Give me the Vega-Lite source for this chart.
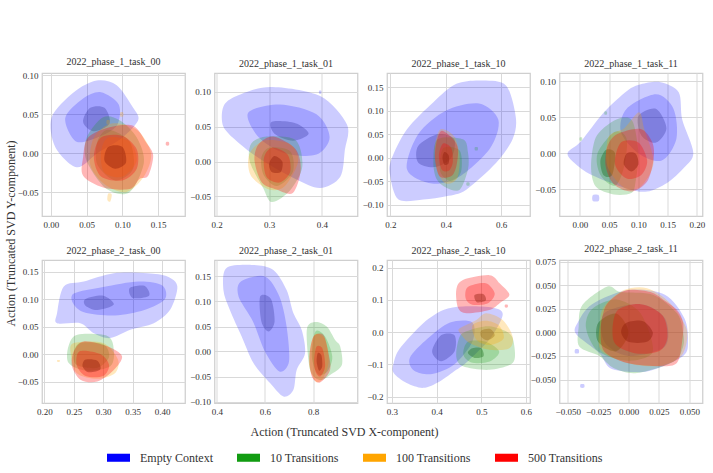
{
"$schema": "https://vega.github.io/schema/vega-lite/v6.json",
"background": "white",
"padding": {"left": 3, "top": 56, "right": 3, "bottom": 5},
"columns": 4,
"spacing": {"row": 44, "column": 29.5},
"bounds": "flush",
"resolve": {"scale": {"x": "independent", "y": "independent", "fill": "shared", "fillOpacity": "shared"}},
"config": {
  "font": "Liberation Serif",
  "style": {"guide-label": {"font": "Liberation Serif"}, "guide-title": {"font": "Liberation Serif"}, "group-title": {"font": "Liberation Serif"}},
  "view": {"stroke": "#cfcfcf", "strokeWidth": 1.25},
  "axis": {"grid": true, "gridColor": "#d9d9d9", "gridWidth": 1, "domain": false, "ticks": false, "labelFont": "Liberation Serif", "labelFontSize": 9, "labelColor": "#333333", "labelPadding": 4, "titleFont": "Liberation Serif", "titleFontSize": 12, "titleFontWeight": "normal", "titleColor": "#333333"},
  "title": {"font": "Liberation Serif", "fontSize": 10, "fontWeight": "normal", "color": "#333333", "offset": 4},
  "legend": {"orient": "none", "legendX": 65, "legendY": 373, "direction": "horizontal", "symbolType": "M-1,-0.35H1V0.35H-1Z", "symbolSize": 529, "symbolOpacity": 1, "symbolStrokeWidth": 0, "labelFont": "Liberation Serif", "labelFontSize": 12, "labelColor": "#333333", "labelOffset": 10, "columnPadding": 24}
},
"datasets": {
"p1": [
{"g":"0","k":"a","x":0.032,"y":0.078},{"g":"0","k":"a","x":0.064,"y":0.093},{"g":"0","k":"a","x":0.092,"y":0.087},{"g":"0","k":"a","x":0.115,"y":0.058},{"g":"0","k":"a","x":0.122,"y":0.042},{"g":"0","k":"a","x":0.10,"y":0.02},{"g":"0","k":"a","x":0.065,"y":0.0},{"g":"0","k":"a","x":0.036,"y":-0.018},{"g":"0","k":"a","x":0.006,"y":0.008},{"g":"0","k":"a","x":0.001,"y":0.046},
{"g":"0","k":"b","x":0.045,"y":0.07},{"g":"0","k":"b","x":0.07,"y":0.078},{"g":"0","k":"b","x":0.095,"y":0.062},{"g":"0","k":"b","x":0.092,"y":0.035},{"g":"0","k":"b","x":0.065,"y":0.02},{"g":"0","k":"b","x":0.035,"y":0.015},{"g":"0","k":"b","x":0.02,"y":0.045},
{"g":"0c","k":"c","x":0.055,"y":0.058},{"g":"0c","k":"c","x":0.075,"y":0.058},{"g":"0c","k":"c","x":0.082,"y":0.038},{"g":"0c","k":"c","x":0.06,"y":0.028},{"g":"0c","k":"c","x":0.045,"y":0.04},
{"g":"10","k":"a","x":0.073,"y":0.046},{"g":"10","k":"a","x":0.096,"y":0.042},{"g":"10","k":"a","x":0.12,"y":0.02},{"g":"10","k":"a","x":0.13,"y":-0.012},{"g":"10","k":"a","x":0.11,"y":-0.05},{"g":"10","k":"a","x":0.078,"y":-0.046},{"g":"10","k":"a","x":0.05,"y":-0.01},{"g":"10","k":"a","x":0.05,"y":0.02},
{"g":"10","k":"b","x":0.08,"y":0.03},{"g":"10","k":"b","x":0.11,"y":0.015},{"g":"10","k":"b","x":0.115,"y":-0.02},{"g":"10","k":"b","x":0.09,"y":-0.035},{"g":"10","k":"b","x":0.065,"y":-0.015},{"g":"10","k":"b","x":0.065,"y":0.015},
{"g":"100","k":"a","x":0.085,"y":0.038},{"g":"100","k":"a","x":0.12,"y":0.03},{"g":"100","k":"a","x":0.14,"y":0.0},{"g":"100","k":"a","x":0.13,"y":-0.03},{"g":"100","k":"a","x":0.105,"y":-0.05},{"g":"100","k":"a","x":0.075,"y":-0.04},{"g":"100","k":"a","x":0.055,"y":-0.015},{"g":"100","k":"a","x":0.06,"y":0.02},
{"g":"100","k":"b","x":0.08,"y":0.02},{"g":"100","k":"b","x":0.11,"y":0.015},{"g":"100","k":"b","x":0.12,"y":-0.01},{"g":"100","k":"b","x":0.1,"y":-0.03},{"g":"100","k":"b","x":0.075,"y":-0.025},{"g":"100","k":"b","x":0.07,"y":0.0},
{"g":"100","k":"s1","x":0.097,"y":0.052},{"g":"100","k":"s1","x":0.101,"y":0.052},{"g":"100","k":"s1","x":0.101,"y":0.047},{"g":"100","k":"s1","x":0.097,"y":0.047},
{"g":"100","k":"s2","x":0.078,"y":0.042},{"g":"100","k":"s2","x":0.082,"y":0.042},{"g":"100","k":"s2","x":0.082,"y":0.037},{"g":"100","k":"s2","x":0.078,"y":0.037},
{"g":"100","k":"s3","x":0.08,"y":-0.052},{"g":"100","k":"s3","x":0.085,"y":-0.053},{"g":"100","k":"s3","x":0.083,"y":-0.062},{"g":"100","k":"s3","x":0.079,"y":-0.06},
{"g":"500","k":"a","x":0.052,"y":0.02},{"g":"500","k":"a","x":0.082,"y":0.033},{"g":"500","k":"a","x":0.115,"y":0.035},{"g":"500","k":"a","x":0.133,"y":0.014},{"g":"500","k":"a","x":0.143,"y":-0.003},{"g":"500","k":"a","x":0.136,"y":-0.029},{"g":"500","k":"a","x":0.124,"y":-0.033},{"g":"500","k":"a","x":0.11,"y":-0.046},{"g":"500","k":"a","x":0.073,"y":-0.044},{"g":"500","k":"a","x":0.045,"y":-0.029},{"g":"500","k":"a","x":0.045,"y":-0.005},
{"g":"500","k":"b","x":0.07,"y":0.02},{"g":"500","k":"b","x":0.1,"y":0.022},{"g":"500","k":"b","x":0.12,"y":0.005},{"g":"500","k":"b","x":0.12,"y":-0.02},{"g":"500","k":"b","x":0.1,"y":-0.035},{"g":"500","k":"b","x":0.07,"y":-0.03},{"g":"500","k":"b","x":0.06,"y":-0.005},
{"g":"500c","k":"c","x":0.08,"y":0.008},{"g":"500c","k":"c","x":0.1,"y":0.008},{"g":"500c","k":"c","x":0.105,"y":-0.012},{"g":"500c","k":"c","x":0.09,"y":-0.02},{"g":"500c","k":"c","x":0.075,"y":-0.01},
{"g":"500","k":"s1","x":0.161,"y":0.014},{"g":"500","k":"s1","x":0.165,"y":0.014},{"g":"500","k":"s1","x":0.165,"y":0.01},{"g":"500","k":"s1","x":0.161,"y":0.01}
],
"p2": [
{"g":"0","k":"a","x":0.213,"y":0.079},{"g":"0","k":"a","x":0.238,"y":0.094},{"g":"0","k":"a","x":0.302,"y":0.107},{"g":"0","k":"a","x":0.397,"y":0.094},{"g":"0","k":"a","x":0.448,"y":0.053},{"g":"0","k":"a","x":0.444,"y":0.017},{"g":"0","k":"a","x":0.435,"y":-0.022},{"g":"0","k":"a","x":0.397,"y":-0.038},{"g":"0","k":"a","x":0.35,"y":-0.025},{"g":"0","k":"a","x":0.29,"y":0.0},{"g":"0","k":"a","x":0.245,"y":0.025},{"g":"0","k":"a","x":0.213,"y":0.05},
{"g":"0","k":"b","x":0.26,"y":0.07},{"g":"0","k":"b","x":0.32,"y":0.082},{"g":"0","k":"b","x":0.39,"y":0.068},{"g":"0","k":"b","x":0.415,"y":0.035},{"g":"0","k":"b","x":0.39,"y":0.01},{"g":"0","k":"b","x":0.33,"y":0.012},{"g":"0","k":"b","x":0.28,"y":0.035},
{"g":"0c","k":"c","x":0.305,"y":0.057},{"g":"0c","k":"c","x":0.35,"y":0.055},{"g":"0c","k":"c","x":0.375,"y":0.04},{"g":"0c","k":"c","x":0.345,"y":0.03},{"g":"0c","k":"c","x":0.31,"y":0.04},
{"g":"0","k":"s1","x":0.395,"y":0.1015},{"g":"0","k":"s1","x":0.399,"y":0.1015},{"g":"0","k":"s1","x":0.399,"y":0.0975},{"g":"0","k":"s1","x":0.395,"y":0.0975},
{"g":"10","k":"a","x":0.295,"y":0.036},{"g":"10","k":"a","x":0.35,"y":0.031},{"g":"10","k":"a","x":0.363,"y":-0.007},{"g":"10","k":"a","x":0.34,"y":-0.041},{"g":"10","k":"a","x":0.305,"y":-0.058},{"g":"10","k":"a","x":0.288,"y":-0.037},{"g":"10","k":"a","x":0.263,"y":0.0},{"g":"10","k":"a","x":0.266,"y":0.026},
{"g":"10","k":"b","x":0.3,"y":0.02},{"g":"10","k":"b","x":0.34,"y":0.015},{"g":"10","k":"b","x":0.345,"y":-0.015},{"g":"10","k":"b","x":0.315,"y":-0.035},{"g":"10","k":"b","x":0.29,"y":-0.02},{"g":"10","k":"b","x":0.285,"y":0.005},
{"g":"100","k":"a","x":0.29,"y":0.03},{"g":"100","k":"a","x":0.34,"y":0.025},{"g":"100","k":"a","x":0.355,"y":0.0},{"g":"100","k":"a","x":0.33,"y":-0.035},{"g":"100","k":"a","x":0.3,"y":-0.04},{"g":"100","k":"a","x":0.265,"y":-0.02},{"g":"100","k":"a","x":0.262,"y":0.01},
{"g":"500","k":"a","x":0.308,"y":0.036},{"g":"500","k":"a","x":0.35,"y":0.018},{"g":"500","k":"a","x":0.36,"y":-0.012},{"g":"500","k":"a","x":0.345,"y":-0.045},{"g":"500","k":"a","x":0.314,"y":-0.04},{"g":"500","k":"a","x":0.286,"y":-0.03},{"g":"500","k":"a","x":0.272,"y":0.002},{"g":"500","k":"a","x":0.28,"y":0.025},
{"g":"500","k":"b","x":0.305,"y":0.02},{"g":"500","k":"b","x":0.335,"y":0.01},{"g":"500","k":"b","x":0.34,"y":-0.015},{"g":"500","k":"b","x":0.32,"y":-0.03},{"g":"500","k":"b","x":0.295,"y":-0.022},{"g":"500","k":"b","x":0.29,"y":0.005},
{"g":"500c","k":"c","x":0.31,"y":0.008},{"g":"500c","k":"c","x":0.325,"y":0.0},{"g":"500c","k":"c","x":0.322,"y":-0.015},{"g":"500c","k":"c","x":0.305,"y":-0.015},{"g":"500c","k":"c","x":0.3,"y":-0.003}
],
"p3": [
{"g":"0","k":"a","x":0.438,"y":0.157},{"g":"0","k":"a","x":0.534,"y":0.164},{"g":"0","k":"a","x":0.618,"y":0.153},{"g":"0","k":"a","x":0.653,"y":0.085},{"g":"0","k":"a","x":0.641,"y":0.039},{"g":"0","k":"a","x":0.582,"y":-0.011},{"g":"0","k":"a","x":0.474,"y":-0.068},{"g":"0","k":"a","x":0.402,"y":-0.082},{"g":"0","k":"a","x":0.319,"y":-0.089},{"g":"0","k":"a","x":0.229,"y":-0.089},{"g":"0","k":"a","x":0.199,"y":-0.039},{"g":"0","k":"a","x":0.203,"y":-0.004},{"g":"0","k":"a","x":0.259,"y":0.06},{"g":"0","k":"a","x":0.355,"y":0.118},
{"g":"0","k":"b","x":0.3,"y":0.05},{"g":"0","k":"b","x":0.4,"y":0.1},{"g":"0","k":"b","x":0.52,"y":0.115},{"g":"0","k":"b","x":0.59,"y":0.08},{"g":"0","k":"b","x":0.56,"y":0.02},{"g":"0","k":"b","x":0.45,"y":-0.04},{"g":"0","k":"b","x":0.35,"y":-0.055},{"g":"0","k":"b","x":0.26,"y":-0.025},
{"g":"0c","k":"c","x":0.3,"y":0.025},{"g":"0c","k":"c","x":0.37,"y":0.05},{"g":"0c","k":"c","x":0.43,"y":0.04},{"g":"0c","k":"c","x":0.42,"y":0.0},{"g":"0c","k":"c","x":0.36,"y":-0.02},{"g":"0c","k":"c","x":0.3,"y":-0.01},
{"g":"10","k":"a","x":0.37,"y":0.039},{"g":"10","k":"a","x":0.462,"y":0.039},{"g":"10","k":"a","x":0.48,"y":0.011},{"g":"10","k":"a","x":0.48,"y":-0.025},{"g":"10","k":"a","x":0.45,"y":-0.068},{"g":"10","k":"a","x":0.402,"y":-0.064},{"g":"10","k":"a","x":0.367,"y":-0.046},{"g":"10","k":"a","x":0.355,"y":-0.011},
{"g":"10","k":"b","x":0.39,"y":0.02},{"g":"10","k":"b","x":0.45,"y":0.015},{"g":"10","k":"b","x":0.455,"y":-0.03},{"g":"10","k":"b","x":0.42,"y":-0.05},{"g":"10","k":"b","x":0.38,"y":-0.03},
{"g":"10","k":"s1","x":0.505,"y":0.022},{"g":"10","k":"s1","x":0.515,"y":0.022},{"g":"10","k":"s1","x":0.515,"y":0.016},{"g":"10","k":"s1","x":0.505,"y":0.016},
{"g":"10","k":"s2","x":0.475,"y":-0.053},{"g":"10","k":"s2","x":0.485,"y":-0.053},{"g":"10","k":"s2","x":0.485,"y":-0.059},{"g":"10","k":"s2","x":0.475,"y":-0.059},
{"g":"100","k":"a","x":0.38,"y":0.06},{"g":"100","k":"a","x":0.43,"y":0.045},{"g":"100","k":"a","x":0.45,"y":0.0},{"g":"100","k":"a","x":0.44,"y":-0.045},{"g":"100","k":"a","x":0.4,"y":-0.055},{"g":"100","k":"a","x":0.37,"y":-0.03},{"g":"100","k":"a","x":0.36,"y":0.02},
{"g":"500","k":"a","x":0.385,"y":0.057},{"g":"500","k":"a","x":0.427,"y":0.039},{"g":"500","k":"a","x":0.444,"y":0.018},{"g":"500","k":"a","x":0.438,"y":-0.018},{"g":"500","k":"a","x":0.42,"y":-0.039},{"g":"500","k":"a","x":0.378,"y":-0.04},{"g":"500","k":"a","x":0.361,"y":-0.004},{"g":"500","k":"a","x":0.366,"y":0.032},
{"g":"500","k":"b","x":0.39,"y":0.03},{"g":"500","k":"b","x":0.42,"y":0.02},{"g":"500","k":"b","x":0.425,"y":-0.01},{"g":"500","k":"b","x":0.41,"y":-0.028},{"g":"500","k":"b","x":0.385,"y":-0.025},{"g":"500","k":"b","x":0.375,"y":0.005},
{"g":"500c","k":"c","x":0.395,"y":0.012},{"g":"500c","k":"c","x":0.41,"y":0.005},{"g":"500c","k":"c","x":0.41,"y":-0.012},{"g":"500c","k":"c","x":0.395,"y":-0.015},{"g":"500c","k":"c","x":0.388,"y":0.0}
],
"p4": [
{"g":"0","k":"a","x":0.081,"y":0.087},{"g":"0","k":"a","x":0.104,"y":0.096},{"g":"0","k":"a","x":0.138,"y":0.099},{"g":"0","k":"a","x":0.169,"y":0.085},{"g":"0","k":"a","x":0.175,"y":0.047},{"g":"0","k":"a","x":0.194,"y":0.001},{"g":"0","k":"a","x":0.178,"y":-0.02},{"g":"0","k":"a","x":0.149,"y":-0.041},{"g":"0","k":"a","x":0.115,"y":-0.053},{"g":"0","k":"a","x":0.081,"y":-0.049},{"g":"0","k":"a","x":0.02,"y":-0.03},{"g":"0","k":"a","x":-0.01,"y":-0.013},{"g":"0","k":"a","x":-0.021,"y":0.001},{"g":"0","k":"a","x":0.002,"y":0.017},{"g":"0","k":"a","x":0.041,"y":0.057},
{"g":"0","k":"b","x":0.08,"y":0.062},{"g":"0","k":"b","x":0.13,"y":0.082},{"g":"0","k":"b","x":0.16,"y":0.062},{"g":"0","k":"b","x":0.165,"y":0.02},{"g":"0","k":"b","x":0.14,"y":-0.01},{"g":"0","k":"b","x":0.1,"y":0.0},{"g":"0","k":"b","x":0.07,"y":0.03},
{"g":"0c","k":"c","x":0.1,"y":0.052},{"g":"0c","k":"c","x":0.13,"y":0.062},{"g":"0c","k":"c","x":0.148,"y":0.035},{"g":"0c","k":"c","x":0.13,"y":0.015},{"g":"0c","k":"c","x":0.105,"y":0.025},
{"g":"0","k":"s1","x":0.022,"y":-0.058},{"g":"0","k":"s1","x":0.032,"y":-0.058},{"g":"0","k":"s1","x":0.032,"y":-0.066},{"g":"0","k":"s1","x":0.022,"y":-0.066},
{"g":"10","k":"a","x":0.075,"y":0.05},{"g":"10","k":"a","x":0.091,"y":0.043},{"g":"10","k":"a","x":0.1,"y":0.0},{"g":"10","k":"a","x":0.095,"y":-0.04},{"g":"10","k":"a","x":0.088,"y":-0.055},{"g":"10","k":"a","x":0.058,"y":-0.057},{"g":"10","k":"a","x":0.027,"y":-0.046},{"g":"10","k":"a","x":0.019,"y":-0.018},{"g":"10","k":"a","x":0.027,"y":0.022},{"g":"10","k":"a","x":0.053,"y":0.043},
{"g":"10","k":"b","x":0.06,"y":0.03},{"g":"10","k":"b","x":0.08,"y":0.02},{"g":"10","k":"b","x":0.075,"y":-0.02},{"g":"10","k":"b","x":0.06,"y":-0.045},{"g":"10","k":"b","x":0.035,"y":-0.03},{"g":"10","k":"b","x":0.03,"y":0.0},
{"g":"10c","k":"c","x":0.045,"y":0.005},{"g":"10c","k":"c","x":0.06,"y":0.0},{"g":"10c","k":"c","x":0.055,"y":-0.03},{"g":"10c","k":"c","x":0.04,"y":-0.03},{"g":"10c","k":"c","x":0.035,"y":-0.01},
{"g":"10","k":"s1","x":0.042,"y":0.058},{"g":"10","k":"s1","x":0.046,"y":0.058},{"g":"10","k":"s1","x":0.046,"y":0.054},{"g":"10","k":"s1","x":0.042,"y":0.054},
{"g":"10","k":"s2","x":-0.0005,"y":0.022},{"g":"10","k":"s2","x":0.0035,"y":0.022},{"g":"10","k":"s2","x":0.0035,"y":0.018},{"g":"10","k":"s2","x":-0.0005,"y":0.018},
{"g":"100","k":"a","x":0.101,"y":0.057},{"g":"100","k":"a","x":0.11,"y":0.034},{"g":"100","k":"a","x":0.126,"y":-0.013},{"g":"100","k":"a","x":0.104,"y":-0.046},{"g":"100","k":"a","x":0.076,"y":-0.048},{"g":"100","k":"a","x":0.047,"y":-0.018},{"g":"100","k":"a","x":0.049,"y":0.023},{"g":"100","k":"a","x":0.076,"y":0.035},
{"g":"500","k":"a","x":0.064,"y":0.027},{"g":"500","k":"a","x":0.104,"y":0.034},{"g":"500","k":"a","x":0.124,"y":0.015},{"g":"500","k":"a","x":0.126,"y":-0.008},{"g":"500","k":"a","x":0.115,"y":-0.039},{"g":"500","k":"a","x":0.088,"y":-0.053},{"g":"500","k":"a","x":0.058,"y":-0.043},{"g":"500","k":"a","x":0.044,"y":-0.018},{"g":"500","k":"a","x":0.047,"y":0.01},
{"g":"500","k":"b","x":0.07,"y":0.015},{"g":"500","k":"b","x":0.1,"y":0.015},{"g":"500","k":"b","x":0.115,"y":-0.01},{"g":"500","k":"b","x":0.105,"y":-0.03},{"g":"500","k":"b","x":0.08,"y":-0.035},{"g":"500","k":"b","x":0.06,"y":-0.015},
{"g":"500c","k":"c","x":0.08,"y":0.0},{"g":"500c","k":"c","x":0.095,"y":0.0},{"g":"500c","k":"c","x":0.1,"y":-0.015},{"g":"500c","k":"c","x":0.088,"y":-0.025},{"g":"500c","k":"c","x":0.075,"y":-0.015}
],
"p5": [
{"g":"0","k":"a","x":0.2216,"y":0.0745},{"g":"0","k":"a","x":0.233,"y":0.123},{"g":"0","k":"a","x":0.267,"y":0.132},{"g":"0","k":"a","x":0.318,"y":0.147},{"g":"0","k":"a","x":0.375,"y":0.147},{"g":"0","k":"a","x":0.409,"y":0.141},{"g":"0","k":"a","x":0.426,"y":0.123},{"g":"0","k":"a","x":0.414,"y":0.081},{"g":"0","k":"a","x":0.386,"y":0.056},{"g":"0","k":"a","x":0.346,"y":0.044},{"g":"0","k":"a","x":0.312,"y":0.029},{"g":"0","k":"a","x":0.284,"y":0.038},{"g":"0","k":"a","x":0.261,"y":0.056},{"g":"0","k":"a","x":0.2216,"y":0.056},
{"g":"0","k":"b","x":0.25,"y":0.11},{"g":"0","k":"b","x":0.3,"y":0.122},{"g":"0","k":"b","x":0.36,"y":0.132},{"g":"0","k":"b","x":0.4,"y":0.125},{"g":"0","k":"b","x":0.405,"y":0.1},{"g":"0","k":"b","x":0.37,"y":0.08},{"g":"0","k":"b","x":0.32,"y":0.07},{"g":"0","k":"b","x":0.27,"y":0.075},{"g":"0","k":"b","x":0.25,"y":0.09},
{"g":"0c","k":"c","x":0.27,"y":0.1},{"g":"0c","k":"c","x":0.3,"y":0.106},{"g":"0c","k":"c","x":0.318,"y":0.09},{"g":"0c","k":"c","x":0.29,"y":0.08},{"g":"0c","k":"c","x":0.27,"y":0.088},
{"g":"0c","k":"d","x":0.345,"y":0.12},{"g":"0c","k":"d","x":0.37,"y":0.124},{"g":"0c","k":"d","x":0.378,"y":0.106},{"g":"0c","k":"d","x":0.35,"y":0.102},
{"g":"10","k":"a","x":0.256,"y":0.035},{"g":"10","k":"a","x":0.307,"y":0.033},{"g":"10","k":"a","x":0.318,"y":0.008},{"g":"10","k":"a","x":0.312,"y":-0.022},{"g":"10","k":"a","x":0.27,"y":-0.03},{"g":"10","k":"a","x":0.241,"y":-0.016},{"g":"10","k":"a","x":0.241,"y":0.014},
{"g":"10","k":"b","x":0.26,"y":0.02},{"g":"10","k":"b","x":0.3,"y":0.018},{"g":"10","k":"b","x":0.31,"y":-0.005},{"g":"10","k":"b","x":0.29,"y":-0.025},{"g":"10","k":"b","x":0.255,"y":-0.02},{"g":"10","k":"b","x":0.25,"y":0.0},
{"g":"100","k":"a","x":0.25,"y":0.02},{"g":"100","k":"a","x":0.3,"y":0.02},{"g":"100","k":"a","x":0.325,"y":-0.01},{"g":"100","k":"a","x":0.32,"y":-0.035},{"g":"100","k":"a","x":0.29,"y":-0.045},{"g":"100","k":"a","x":0.255,"y":-0.035},{"g":"100","k":"a","x":0.245,"y":0.0},
{"g":"100","k":"s1","x":0.222,"y":-0.011},{"g":"100","k":"s1","x":0.226,"y":-0.011},{"g":"100","k":"s1","x":0.226,"y":-0.014},{"g":"100","k":"s1","x":0.222,"y":-0.014},
{"g":"500","k":"a","x":0.267,"y":0.023},{"g":"500","k":"a","x":0.307,"y":0.014},{"g":"500","k":"a","x":0.332,"y":-0.004},{"g":"500","k":"a","x":0.318,"y":-0.029},{"g":"500","k":"a","x":0.29,"y":-0.05},{"g":"500","k":"a","x":0.262,"y":-0.047},{"g":"500","k":"a","x":0.247,"y":-0.022},{"g":"500","k":"a","x":0.25,"y":0.005},
{"g":"500","k":"b","x":0.26,"y":0.005},{"g":"500","k":"b","x":0.295,"y":0.0},{"g":"500","k":"b","x":0.31,"y":-0.02},{"g":"500","k":"b","x":0.3,"y":-0.04},{"g":"500","k":"b","x":0.27,"y":-0.04},{"g":"500","k":"b","x":0.255,"y":-0.02},
{"g":"500c","k":"c","x":0.27,"y":-0.01},{"g":"500c","k":"c","x":0.29,"y":-0.012},{"g":"500c","k":"c","x":0.295,"y":-0.028},{"g":"500c","k":"c","x":0.275,"y":-0.033},{"g":"500c","k":"c","x":0.265,"y":-0.022}
],
"p6": [
{"g":"0","k":"a","x":0.44,"y":0.167},{"g":"0","k":"a","x":0.552,"y":0.173},{"g":"0","k":"a","x":0.635,"y":0.163},{"g":"0","k":"a","x":0.69,"y":0.123},{"g":"0","k":"a","x":0.718,"y":0.077},{"g":"0","k":"a","x":0.753,"y":0.043},{"g":"0","k":"a","x":0.767,"y":-0.003},{"g":"0","k":"a","x":0.732,"y":-0.037},{"g":"0","k":"a","x":0.718,"y":-0.077},{"g":"0","k":"a","x":0.677,"y":-0.09},{"g":"0","k":"a","x":0.621,"y":-0.063},{"g":"0","k":"a","x":0.552,"y":-0.023},{"g":"0","k":"a","x":0.503,"y":0.03},{"g":"0","k":"a","x":0.454,"y":0.083},{"g":"0","k":"a","x":0.427,"y":0.123},
{"g":"0","k":"b","x":0.5,"y":0.14},{"g":"0","k":"b","x":0.6,"y":0.15},{"g":"0","k":"b","x":0.66,"y":0.11},{"g":"0","k":"b","x":0.69,"y":0.05},{"g":"0","k":"b","x":0.7,"y":-0.02},{"g":"0","k":"b","x":0.66,"y":-0.04},{"g":"0","k":"b","x":0.6,"y":0.0},{"g":"0","k":"b","x":0.55,"y":0.06},{"g":"0","k":"b","x":0.49,"y":0.11},
{"g":"0c","k":"c","x":0.58,"y":0.11},{"g":"0c","k":"c","x":0.625,"y":0.105},{"g":"0c","k":"c","x":0.64,"y":0.06},{"g":"0c","k":"c","x":0.615,"y":0.04},{"g":"0c","k":"c","x":0.585,"y":0.06},
{"g":"10","k":"a","x":0.808,"y":0.059},{"g":"10","k":"a","x":0.857,"y":0.05},{"g":"10","k":"a","x":0.892,"y":0.023},{"g":"10","k":"a","x":0.913,"y":0.01},{"g":"10","k":"a","x":0.92,"y":-0.027},{"g":"10","k":"a","x":0.871,"y":-0.047},{"g":"10","k":"a","x":0.829,"y":-0.057},{"g":"10","k":"a","x":0.788,"y":-0.037},{"g":"10","k":"a","x":0.774,"y":0.043},
{"g":"10","k":"b","x":0.81,"y":0.04},{"g":"10","k":"b","x":0.85,"y":0.03},{"g":"10","k":"b","x":0.88,"y":-0.01},{"g":"10","k":"b","x":0.86,"y":-0.04},{"g":"10","k":"b","x":0.82,"y":-0.045},{"g":"10","k":"b","x":0.795,"y":-0.01},
{"g":"100","k":"a","x":0.81,"y":0.035},{"g":"100","k":"a","x":0.85,"y":0.025},{"g":"100","k":"a","x":0.865,"y":-0.02},{"g":"100","k":"a","x":0.84,"y":-0.055},{"g":"100","k":"a","x":0.81,"y":-0.06},{"g":"100","k":"a","x":0.785,"y":-0.03},{"g":"100","k":"a","x":0.79,"y":0.01},
{"g":"500","k":"a","x":0.802,"y":0.03},{"g":"500","k":"a","x":0.843,"y":0.033},{"g":"500","k":"a","x":0.864,"y":-0.003},{"g":"500","k":"a","x":0.871,"y":-0.037},{"g":"500","k":"a","x":0.829,"y":-0.062},{"g":"500","k":"a","x":0.795,"y":-0.05},{"g":"500","k":"a","x":0.785,"y":-0.01},
{"g":"500","k":"b","x":0.815,"y":0.01},{"g":"500","k":"b","x":0.84,"y":0.005},{"g":"500","k":"b","x":0.85,"y":-0.03},{"g":"500","k":"b","x":0.83,"y":-0.05},{"g":"500","k":"b","x":0.81,"y":-0.04},{"g":"500","k":"b","x":0.805,"y":-0.015},
{"g":"500c","k":"c","x":0.82,"y":-0.003},{"g":"500c","k":"c","x":0.835,"y":-0.008},{"g":"500c","k":"c","x":0.838,"y":-0.03},{"g":"500c","k":"c","x":0.825,"y":-0.038},{"g":"500c","k":"c","x":0.815,"y":-0.02}
],
"p7": [
{"g":"0","k":"a","x":0.304,"y":-0.096},{"g":"0","k":"a","x":0.318,"y":-0.05},{"g":"0","k":"a","x":0.37,"y":0.028},{"g":"0","k":"a","x":0.415,"y":0.069},{"g":"0","k":"a","x":0.459,"y":0.08},{"g":"0","k":"a","x":0.526,"y":0.076},{"g":"0","k":"a","x":0.548,"y":0.054},{"g":"0","k":"a","x":0.52,"y":-0.02},{"g":"0","k":"a","x":0.47,"y":-0.09},{"g":"0","k":"a","x":0.444,"y":-0.117},{"g":"0","k":"a","x":0.407,"y":-0.153},{"g":"0","k":"a","x":0.37,"y":-0.173},{"g":"0","k":"a","x":0.333,"y":-0.158},{"g":"0","k":"a","x":0.304,"y":-0.127},
{"g":"0","k":"b","x":0.34,"y":-0.08},{"g":"0","k":"b","x":0.38,"y":-0.02},{"g":"0","k":"b","x":0.43,"y":0.03},{"g":"0","k":"b","x":0.48,"y":0.03},{"g":"0","k":"b","x":0.48,"y":-0.03},{"g":"0","k":"b","x":0.44,"y":-0.1},{"g":"0","k":"b","x":0.39,"y":-0.13},{"g":"0","k":"b","x":0.35,"y":-0.12},
{"g":"0c","k":"c","x":0.39,"y":-0.06},{"g":"0c","k":"c","x":0.41,"y":-0.01},{"g":"0c","k":"c","x":0.44,"y":-0.01},{"g":"0c","k":"c","x":0.44,"y":-0.06},{"g":"0c","k":"c","x":0.41,"y":-0.09},
{"g":"10","k":"a","x":0.474,"y":0.006},{"g":"10","k":"a","x":0.518,"y":0.018},{"g":"10","k":"a","x":0.563,"y":-0.004},{"g":"10","k":"a","x":0.574,"y":-0.044},{"g":"10","k":"a","x":0.57,"y":-0.096},{"g":"10","k":"a","x":0.518,"y":-0.117},{"g":"10","k":"a","x":0.459,"y":-0.106},{"g":"10","k":"a","x":0.444,"y":-0.075},{"g":"10","k":"a","x":0.452,"y":-0.013},
{"g":"10","k":"b","x":0.47,"y":-0.03},{"g":"10","k":"b","x":0.51,"y":-0.03},{"g":"10","k":"b","x":0.54,"y":-0.06},{"g":"10","k":"b","x":0.52,"y":-0.09},{"g":"10","k":"b","x":0.48,"y":-0.095},{"g":"10","k":"b","x":0.46,"y":-0.07},
{"g":"10c","k":"c","x":0.48,"y":-0.05},{"g":"10c","k":"c","x":0.5,"y":-0.05},{"g":"10c","k":"c","x":0.505,"y":-0.075},{"g":"10c","k":"c","x":0.485,"y":-0.08},{"g":"10c","k":"c","x":0.47,"y":-0.065},
{"g":"100","k":"a","x":0.452,"y":0.012},{"g":"100","k":"a","x":0.489,"y":0.038},{"g":"100","k":"a","x":0.511,"y":0.059},{"g":"100","k":"a","x":0.548,"y":0.038},{"g":"100","k":"a","x":0.57,"y":-0.013},{"g":"100","k":"a","x":0.563,"y":-0.05},{"g":"100","k":"a","x":0.518,"y":-0.055},{"g":"100","k":"a","x":0.474,"y":-0.034},{"g":"100","k":"a","x":0.452,"y":-0.002},
{"g":"100","k":"b","x":0.48,"y":0.02},{"g":"100","k":"b","x":0.51,"y":0.035},{"g":"100","k":"b","x":0.54,"y":0.02},{"g":"100","k":"b","x":0.55,"y":-0.02},{"g":"100","k":"b","x":0.52,"y":-0.04},{"g":"100","k":"b","x":0.49,"y":-0.025},
{"g":"100c","k":"c","x":0.5,"y":0.005},{"g":"100c","k":"c","x":0.52,"y":0.01},{"g":"100c","k":"c","x":0.53,"y":-0.01},{"g":"100c","k":"c","x":0.515,"y":-0.025},{"g":"100c","k":"c","x":0.5,"y":-0.015},
{"g":"500","k":"a","x":0.444,"y":0.131},{"g":"500","k":"a","x":0.459,"y":0.162},{"g":"500","k":"a","x":0.518,"y":0.177},{"g":"500","k":"a","x":0.541,"y":0.152},{"g":"500","k":"a","x":0.563,"y":0.116},{"g":"500","k":"a","x":0.541,"y":0.09},{"g":"500","k":"a","x":0.518,"y":0.069},{"g":"500","k":"a","x":0.467,"y":0.059},{"g":"500","k":"a","x":0.448,"y":0.076},
{"g":"500","k":"b","x":0.47,"y":0.14},{"g":"500","k":"b","x":0.51,"y":0.152},{"g":"500","k":"b","x":0.53,"y":0.12},{"g":"500","k":"b","x":0.515,"y":0.09},{"g":"500","k":"b","x":0.48,"y":0.085},{"g":"500","k":"b","x":0.465,"y":0.105},
{"g":"500c","k":"c","x":0.485,"y":0.115},{"g":"500c","k":"c","x":0.505,"y":0.118},{"g":"500c","k":"c","x":0.51,"y":0.098},{"g":"500c","k":"c","x":0.49,"y":0.093},
{"g":"500","k":"s1","x":0.553,"y":0.085},{"g":"500","k":"s1","x":0.559,"y":0.085},{"g":"500","k":"s1","x":0.559,"y":0.077},{"g":"500","k":"s1","x":0.553,"y":0.077}
],
"p8": [
{"g":"0","k":"a","x":-0.042,"y":0.01},{"g":"0","k":"a","x":-0.03,"y":0.03},{"g":"0","k":"a","x":0.0,"y":0.045},{"g":"0","k":"a","x":0.03,"y":0.04},{"g":"0","k":"a","x":0.046,"y":0.015},{"g":"0","k":"a","x":0.049,"y":-0.01},{"g":"0","k":"a","x":0.045,"y":-0.025},{"g":"0","k":"a","x":0.02,"y":-0.04},{"g":"0","k":"a","x":0.004,"y":-0.042},{"g":"0","k":"a","x":-0.015,"y":-0.038},{"g":"0","k":"a","x":-0.024,"y":-0.022},{"g":"0","k":"a","x":-0.043,"y":-0.002},
{"g":"0","k":"b","x":-0.02,"y":0.02},{"g":"0","k":"b","x":0.01,"y":0.03},{"g":"0","k":"b","x":0.03,"y":0.015},{"g":"0","k":"b","x":0.03,"y":-0.015},{"g":"0","k":"b","x":0.0,"y":-0.025},{"g":"0","k":"b","x":-0.02,"y":-0.01},
{"g":"0","k":"s1","x":-0.044,"y":-0.018},{"g":"0","k":"s1","x":-0.041,"y":-0.018},{"g":"0","k":"s1","x":-0.041,"y":-0.022},{"g":"0","k":"s1","x":-0.044,"y":-0.022},
{"g":"0","k":"s2","x":-0.0395,"y":-0.055},{"g":"0","k":"s2","x":-0.0365,"y":-0.055},{"g":"0","k":"s2","x":-0.0365,"y":-0.0585},{"g":"0","k":"s2","x":-0.0395,"y":-0.0585},
{"g":"10","k":"a","x":-0.038,"y":0.029},{"g":"10","k":"a","x":-0.0174,"y":0.0487},{"g":"10","k":"a","x":-0.0065,"y":0.043},{"g":"10","k":"a","x":0.02,"y":0.04},{"g":"10","k":"a","x":0.04,"y":0.02},{"g":"10","k":"a","x":0.045,"y":-0.0007},{"g":"10","k":"a","x":0.045,"y":-0.015},{"g":"10","k":"a","x":0.037,"y":-0.031},{"g":"10","k":"a","x":0.007,"y":-0.043},{"g":"10","k":"a","x":-0.012,"y":-0.038},{"g":"10","k":"a","x":-0.024,"y":-0.025},{"g":"10","k":"a","x":-0.0405,"y":-0.015},{"g":"10","k":"a","x":-0.041,"y":0.0064},
{"g":"10","k":"b","x":-0.03,"y":0.025},{"g":"10","k":"b","x":-0.01,"y":0.035},{"g":"10","k":"b","x":0.01,"y":0.02},{"g":"10","k":"b","x":0.02,"y":-0.02},{"g":"10","k":"b","x":0.0,"y":-0.03},{"g":"10","k":"b","x":-0.025,"y":-0.02},{"g":"10","k":"b","x":-0.035,"y":0.005},
{"g":"10c","k":"c","x":-0.025,"y":0.01},{"g":"10c","k":"c","x":-0.01,"y":0.02},{"g":"10c","k":"c","x":0.0,"y":0.0},{"g":"10c","k":"c","x":-0.01,"y":-0.02},{"g":"10c","k":"c","x":-0.025,"y":-0.01},
{"g":"100","k":"a","x":-0.02,"y":0.0276},{"g":"100","k":"a","x":-0.0038,"y":0.045},{"g":"100","k":"a","x":0.0153,"y":0.047},{"g":"100","k":"a","x":0.0343,"y":0.031},{"g":"100","k":"a","x":0.048,"y":0.0028},{"g":"100","k":"a","x":0.045,"y":-0.022},{"g":"100","k":"a","x":0.034,"y":-0.0325},{"g":"100","k":"a","x":0.0207,"y":-0.036},{"g":"100","k":"a","x":-0.001,"y":-0.0325},{"g":"100","k":"a","x":-0.0229,"y":-0.0184},{"g":"100","k":"a","x":-0.0235,"y":0.0099},
{"g":"500","k":"a","x":-0.0147,"y":0.0345},{"g":"500","k":"a","x":-0.001,"y":0.045},{"g":"500","k":"a","x":0.018,"y":0.043},{"g":"500","k":"a","x":0.029,"y":0.0345},{"g":"500","k":"a","x":0.0398,"y":0.024},{"g":"500","k":"a","x":0.045,"y":0.0099},{"g":"500","k":"a","x":0.044,"y":-0.0113},{"g":"500","k":"a","x":0.0398,"y":-0.0325},{"g":"500","k":"a","x":0.026,"y":-0.036},{"g":"500","k":"a","x":-0.001,"y":-0.0325},{"g":"500","k":"a","x":-0.02,"y":-0.0201},{"g":"500","k":"a","x":-0.0229,"y":0.0028},{"g":"500","k":"a","x":-0.02,"y":0.024},
{"g":"500","k":"b","x":-0.01,"y":0.022},{"g":"500","k":"b","x":0.01,"y":0.03},{"g":"500","k":"b","x":0.028,"y":0.018},{"g":"500","k":"b","x":0.032,"y":-0.005},{"g":"500","k":"b","x":0.025,"y":-0.02},{"g":"500","k":"b","x":0.005,"y":-0.022},{"g":"500","k":"b","x":-0.012,"y":-0.01},
{"g":"500c","k":"c","x":-0.002,"y":0.01},{"g":"500c","k":"c","x":0.012,"y":0.012},{"g":"500c","k":"c","x":0.02,"y":0.0},{"g":"500c","k":"c","x":0.015,"y":-0.01},{"g":"500c","k":"c","x":0.0,"y":-0.01},{"g":"500c","k":"c","x":-0.006,"y":0.0}
]
},
"concat": [
{"width":143,"height":143,"title":{"text":"2022_phase_1_task_00","font":"Liberation Serif","fontSize":10},"data":{"name":"p1"},
 "mark":{"type":"line","interpolate":"cardinal-closed","tension":0.1,"strokeWidth":0,"clip":true},
 "encoding":{
  "x":{"field":"x","type":"quantitative","scale":{"domain":[-0.0125,0.1875],"nice":false,"zero":false},"axis":{"title":null,"values":[0,0.05,0.1,0.15],"format":".2f","labelFont":"Liberation Serif"}},
  "y":{"field":"y","type":"quantitative","scale":{"domain":[-0.0805,0.1026],"nice":false,"zero":false},"axis":{"title":"Action (Truncated SVD Y-component)","titleX":-32,"titleY":160,"titleAngle":-90,"titleAlign":"center","titleBaseline":"middle","values":[-0.05,0,0.05,0.1],"format":".2f","labelFont":"Liberation Serif"}},
  "fill":{"field":"g","type":"nominal","scale":{"domain":["0","10","100","500","0c","10c","100c","500c"],"range":["#0000ff","#129c12","#ffa500","#ff0000","#30309a","#0a600a","#9a6a10","#8a1808"]},"legend":{"title":null,"values":["0","10","100","500"],"labelExpr":"datum.label == '0' ? 'Empty Context' : datum.label + ' Transitions'"}},
  "fillOpacity":{"field":"g","type":"nominal","scale":{"domain":["0","10","100","500","0c","10c","100c","500c"],"range":[0.2,0.4,0.35,0.3,0.35,0.45,0.45,0.5]},"legend":null},
  "detail":{"field":"k"},"order":{"value":null}}},
{"width":143,"height":143,"title":{"text":"2022_phase_1_task_01","font":"Liberation Serif","fontSize":10},"data":{"name":"p2"},
 "mark":{"type":"line","interpolate":"cardinal-closed","tension":0.1,"strokeWidth":0,"clip":true},
 "encoding":{
  "x":{"field":"x","type":"quantitative","scale":{"domain":[0.196,0.468],"nice":false,"zero":false},"axis":{"title":null,"values":[0.2,0.3,0.4],"format":".1f","labelFont":"Liberation Serif"}},
  "y":{"field":"y","type":"quantitative","scale":{"domain":[-0.078,0.127],"nice":false,"zero":false},"axis":{"title":null,"values":[-0.05,0,0.05,0.1],"format":".2f","labelFont":"Liberation Serif"}},
  "fill":{"field":"g","type":"nominal","scale":{"domain":["0","10","100","500","0c","10c","100c","500c"],"range":["#0000ff","#129c12","#ffa500","#ff0000","#30309a","#0a600a","#9a6a10","#8a1808"]},"legend":{"title":null,"values":["0","10","100","500"],"labelExpr":"datum.label == '0' ? 'Empty Context' : datum.label + ' Transitions'"}},
  "fillOpacity":{"field":"g","type":"nominal","scale":{"domain":["0","10","100","500","0c","10c","100c","500c"],"range":[0.2,0.4,0.35,0.3,0.35,0.45,0.45,0.5]},"legend":null},
  "detail":{"field":"k"},"order":{"value":null}}},
{"width":143,"height":143,"title":{"text":"2022_phase_1_task_10","font":"Liberation Serif","fontSize":10},"data":{"name":"p3"},
 "mark":{"type":"line","interpolate":"cardinal-closed","tension":0.1,"strokeWidth":0,"clip":true},
 "encoding":{
  "x":{"field":"x","type":"quantitative","scale":{"domain":[0.1875,0.704],"nice":false,"zero":false},"axis":{"title":null,"values":[0.2,0.4,0.6],"format":".1f","labelFont":"Liberation Serif"}},
  "y":{"field":"y","type":"quantitative","scale":{"domain":[-0.124,0.18],"nice":false,"zero":false},"axis":{"title":null,"values":[-0.1,-0.05,0,0.05,0.1,0.15],"format":".2f","labelFont":"Liberation Serif"}},
  "fill":{"field":"g","type":"nominal","scale":{"domain":["0","10","100","500","0c","10c","100c","500c"],"range":["#0000ff","#129c12","#ffa500","#ff0000","#30309a","#0a600a","#9a6a10","#8a1808"]},"legend":{"title":null,"values":["0","10","100","500"],"labelExpr":"datum.label == '0' ? 'Empty Context' : datum.label + ' Transitions'"}},
  "fillOpacity":{"field":"g","type":"nominal","scale":{"domain":["0","10","100","500","0c","10c","100c","500c"],"range":[0.2,0.4,0.35,0.3,0.35,0.45,0.45,0.5]},"legend":null},
  "detail":{"field":"k"},"order":{"value":null}}},
{"width":143,"height":143,"title":{"text":"2022_phase_1_task_11","font":"Liberation Serif","fontSize":10},"data":{"name":"p4"},
 "mark":{"type":"line","interpolate":"cardinal-closed","tension":0.1,"strokeWidth":0,"clip":true},
 "encoding":{
  "x":{"field":"x","type":"quantitative","scale":{"domain":[-0.035,0.2097],"nice":false,"zero":false},"axis":{"title":null,"values":[0,0.05,0.1,0.15,0.2],"format":".2f","labelFont":"Liberation Serif"}},
  "y":{"field":"y","type":"quantitative","scale":{"domain":[-0.087,0.1117],"nice":false,"zero":false},"axis":{"title":null,"values":[-0.05,0,0.05,0.1],"format":".2f","labelFont":"Liberation Serif"}},
  "fill":{"field":"g","type":"nominal","scale":{"domain":["0","10","100","500","0c","10c","100c","500c"],"range":["#0000ff","#129c12","#ffa500","#ff0000","#30309a","#0a600a","#9a6a10","#8a1808"]},"legend":{"title":null,"values":["0","10","100","500"],"labelExpr":"datum.label == '0' ? 'Empty Context' : datum.label + ' Transitions'"}},
  "fillOpacity":{"field":"g","type":"nominal","scale":{"domain":["0","10","100","500","0c","10c","100c","500c"],"range":[0.2,0.4,0.35,0.3,0.35,0.45,0.45,0.5]},"legend":null},
  "detail":{"field":"k"},"order":{"value":null}}},
{"width":143,"height":143,"title":{"text":"2022_phase_2_task_00","font":"Liberation Serif","fontSize":10},"data":{"name":"p5"},
 "mark":{"type":"line","interpolate":"cardinal-closed","tension":0.1,"strokeWidth":0,"clip":true},
 "encoding":{
  "x":{"field":"x","type":"quantitative","scale":{"domain":[0.196,0.439],"nice":false,"zero":false},"axis":{"title":"Action (Truncated SVD X-component)","titleX":302,"titleY":23,"titleAlign":"center","titleBaseline":"top","values":[0.2,0.25,0.3,0.35,0.4],"format":".2f","labelFont":"Liberation Serif"}},
  "y":{"field":"y","type":"quantitative","scale":{"domain":[-0.089,0.171],"nice":false,"zero":false},"axis":{"title":null,"values":[-0.05,0,0.05,0.1,0.15],"format":".2f","labelFont":"Liberation Serif"}},
  "fill":{"field":"g","type":"nominal","scale":{"domain":["0","10","100","500","0c","10c","100c","500c"],"range":["#0000ff","#129c12","#ffa500","#ff0000","#30309a","#0a600a","#9a6a10","#8a1808"]},"legend":{"title":null,"values":["0","10","100","500"],"labelExpr":"datum.label == '0' ? 'Empty Context' : datum.label + ' Transitions'"}},
  "fillOpacity":{"field":"g","type":"nominal","scale":{"domain":["0","10","100","500","0c","10c","100c","500c"],"range":[0.2,0.4,0.35,0.3,0.35,0.45,0.45,0.5]},"legend":null},
  "detail":{"field":"k"},"order":{"value":null}}},
{"width":143,"height":143,"title":{"text":"2022_phase_2_task_01","font":"Liberation Serif","fontSize":10},"data":{"name":"p6"},
 "mark":{"type":"line","interpolate":"cardinal-closed","tension":0.1,"strokeWidth":0,"clip":true},
 "encoding":{
  "x":{"field":"x","type":"quantitative","scale":{"domain":[0.39,0.985],"nice":false,"zero":false},"axis":{"title":null,"values":[0.4,0.6,0.8],"format":".1f","labelFont":"Liberation Serif"}},
  "y":{"field":"y","type":"quantitative","scale":{"domain":[-0.103,0.183],"nice":false,"zero":false},"axis":{"title":null,"values":[-0.1,-0.05,0,0.05,0.1,0.15],"format":".2f","labelFont":"Liberation Serif"}},
  "fill":{"field":"g","type":"nominal","scale":{"domain":["0","10","100","500","0c","10c","100c","500c"],"range":["#0000ff","#129c12","#ffa500","#ff0000","#30309a","#0a600a","#9a6a10","#8a1808"]},"legend":{"title":null,"values":["0","10","100","500"],"labelExpr":"datum.label == '0' ? 'Empty Context' : datum.label + ' Transitions'"}},
  "fillOpacity":{"field":"g","type":"nominal","scale":{"domain":["0","10","100","500","0c","10c","100c","500c"],"range":[0.2,0.4,0.35,0.3,0.35,0.45,0.45,0.5]},"legend":null},
  "detail":{"field":"k"},"order":{"value":null}}},
{"width":143,"height":143,"title":{"text":"2022_phase_2_task_10","font":"Liberation Serif","fontSize":10},"data":{"name":"p7"},
 "mark":{"type":"line","interpolate":"cardinal-closed","tension":0.1,"strokeWidth":0,"clip":true},
 "encoding":{
  "x":{"field":"x","type":"quantitative","scale":{"domain":[0.289,0.609],"nice":false,"zero":false},"axis":{"title":null,"values":[0.3,0.4,0.5,0.6],"format":".1f","labelFont":"Liberation Serif"}},
  "y":{"field":"y","type":"quantitative","scale":{"domain":[-0.22,0.224],"nice":false,"zero":false},"axis":{"title":null,"values":[-0.2,-0.1,0,0.1,0.2],"format":".1f","labelFont":"Liberation Serif"}},
  "fill":{"field":"g","type":"nominal","scale":{"domain":["0","10","100","500","0c","10c","100c","500c"],"range":["#0000ff","#129c12","#ffa500","#ff0000","#30309a","#0a600a","#9a6a10","#8a1808"]},"legend":{"title":null,"values":["0","10","100","500"],"labelExpr":"datum.label == '0' ? 'Empty Context' : datum.label + ' Transitions'"}},
  "fillOpacity":{"field":"g","type":"nominal","scale":{"domain":["0","10","100","500","0c","10c","100c","500c"],"range":[0.2,0.4,0.35,0.3,0.35,0.45,0.45,0.5]},"legend":null},
  "detail":{"field":"k"},"order":{"value":null}}},
{"width":143,"height":143,"title":{"text":"2022_phase_2_task_11","font":"Liberation Serif","fontSize":10},"data":{"name":"p8"},
 "mark":{"type":"line","interpolate":"cardinal-closed","tension":0.1,"strokeWidth":0,"clip":true},
 "encoding":{
  "x":{"field":"x","type":"quantitative","scale":{"domain":[-0.0568,0.0609],"nice":false,"zero":false},"axis":{"title":null,"values":[-0.05,-0.025,0,0.025,0.05],"format":".3f","labelFont":"Liberation Serif"}},
  "y":{"field":"y","type":"quantitative","scale":{"domain":[-0.0749,0.0769],"nice":false,"zero":false},"axis":{"title":null,"values":[-0.05,-0.025,0,0.025,0.05,0.075],"format":".3f","labelFont":"Liberation Serif"}},
  "fill":{"field":"g","type":"nominal","scale":{"domain":["0","10","100","500","0c","10c","100c","500c"],"range":["#0000ff","#129c12","#ffa500","#ff0000","#30309a","#0a600a","#9a6a10","#8a1808"]},"legend":{"title":null,"values":["0","10","100","500"],"labelExpr":"datum.label == '0' ? 'Empty Context' : datum.label + ' Transitions'"}},
  "fillOpacity":{"field":"g","type":"nominal","scale":{"domain":["0","10","100","500","0c","10c","100c","500c"],"range":[0.2,0.4,0.35,0.3,0.35,0.45,0.45,0.5]},"legend":null},
  "detail":{"field":"k"},"order":{"value":null}}}
]
}
